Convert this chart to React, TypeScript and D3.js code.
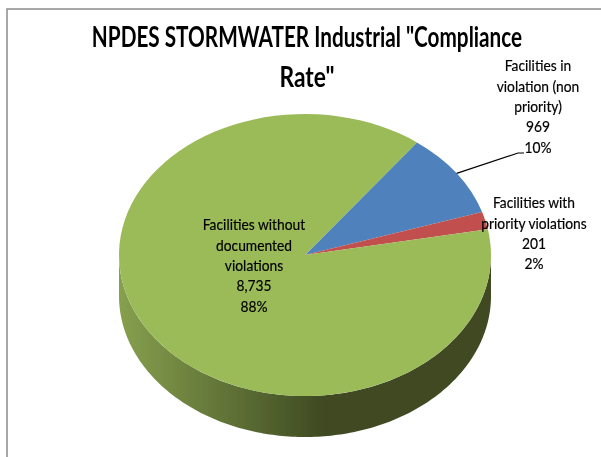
import React from "react";
import * as d3 from "d3";

const categories = ["Facilities in violation (non priority)", "Facilities with priority violations", "Facilities without documented violations"];
const facilityCounts = [969, 201, 8735];
const countLabels = ["969", "201", "8,735"];
const percentLabels = ["10%", "2%", "88%"];
const sliceColors = ["#4f81bd", "#c0504d", "#9bbb59"];
const titleLines = ['NPDES STORMWATER Industrial "Compliance', 'Rate"'];

const labelFont = "Lato, 'Liberation Sans', sans-serif";

export default function App() {
  const width = 601;
  const height = 457;
  const cx = 305;
  const cy = 255;
  const rx = 186;
  const ry = 141;
  const depth = 41;
  const firstAngle = (37 * Math.PI) / 180;

  const pie = d3
    .pie<number>()
    .sort(null)
    .startAngle(firstAngle)
    .endAngle(firstAngle + Math.PI * 2);
  const slices = pie(facilityCounts);
  const arc = d3.arc<d3.PieArcDatum<number>>().innerRadius(0).outerRadius(rx);

  // front wall of the 3d pie: lower half of the ellipse pushed down by depth
  const wallAngles = d3.range(90, 270.5, 1).map((a) => (a * Math.PI) / 180);
  const wall = d3
    .area<number>()
    .x((a) => cx + rx * Math.sin(a))
    .y0((a) => cy - ry * Math.cos(a))
    .y1((a) => cy - ry * Math.cos(a) + depth)(wallAngles);

  // leader from the blue slice edge up to its label
  const blueMid = (slices[0].startAngle + slices[0].endAngle) / 2;
  const leader = d3.line()([
    [cx + rx * Math.sin(blueMid), cy - ry * Math.cos(blueMid)],
    [518, 153],
    [524, 153],
  ]);

  const labelBlocks = [
    { x: 538, y: 66, lines: ["Facilities in", "violation (non", "priority)", countLabels[0], percentLabels[0]] },
    { x: 534, y: 203, lines: ["Facilities with", "priority violations", countLabels[1], percentLabels[1]] },
    { x: 254, y: 225, lines: ["Facilities without", "documented", "violations", countLabels[2], percentLabels[2]] },
  ];

  return (
    <svg
      width={width}
      height={height}
      aria-label={categories.join(", ")}
      style={{ position: "absolute", left: 0, top: 0, background: "#fff" }}
    >
      <defs>
        <linearGradient id="wallFill" gradientUnits="userSpaceOnUse" x1={cx - rx} x2={cx + rx} y1={0} y2={0}>
          <stop offset="0" stopColor="#86a04e" />
          <stop offset="0.55" stopColor="#3f4a22" />
          <stop offset="1" stopColor="#3f4a22" />
        </linearGradient>
        <filter id="soft" x="-5%" y="-5%" width="110%" height="110%">
          <feGaussianBlur stdDeviation="0.4" />
        </filter>
      </defs>

      <path d={`M${width},9H7V${height}`} fill="none" stroke="#8c8c8c" strokeWidth={1.5} />

      <path d={wall ?? ""} fill="url(#wallFill)" filter="url(#soft)" />
      <g transform={`translate(${cx},${cy}) scale(1,${ry / rx})`} filter="url(#soft)">
        {slices.map((d, i) => (
          <path key={categories[i]} d={arc(d) ?? ""} fill={sliceColors[i]} />
        ))}
      </g>

      <path d={leader ?? ""} fill="none" stroke="#000" strokeWidth={1.2} />

      <g filter="url(#soft)">
        {titleLines.map((t, i) => (
          <text
            key={t}
            transform={`translate(307,${47 + i * 40}) scale(${i === 0 ? 0.741 : 0.814},1)`}
            textAnchor="middle"
            fontFamily={labelFont}
            fontSize={28}
            fontWeight="bold"
            fill="#000"
          >
            {t}
          </text>
        ))}
        {labelBlocks.map((b) =>
          b.lines.map((l, i) => (
            <text
              key={b.x + l}
              transform={`translate(${b.x},${b.y + i * 20.4}) scale(0.92,1)`}
              dy="0.35em"
              textAnchor="middle"
              fontFamily={labelFont}
              fontSize={15}
              fill="#000"
              stroke="#000"
              strokeWidth={0.2}
            >
              {l}
            </text>
          ))
        )}
      </g>
    </svg>
  );
}
